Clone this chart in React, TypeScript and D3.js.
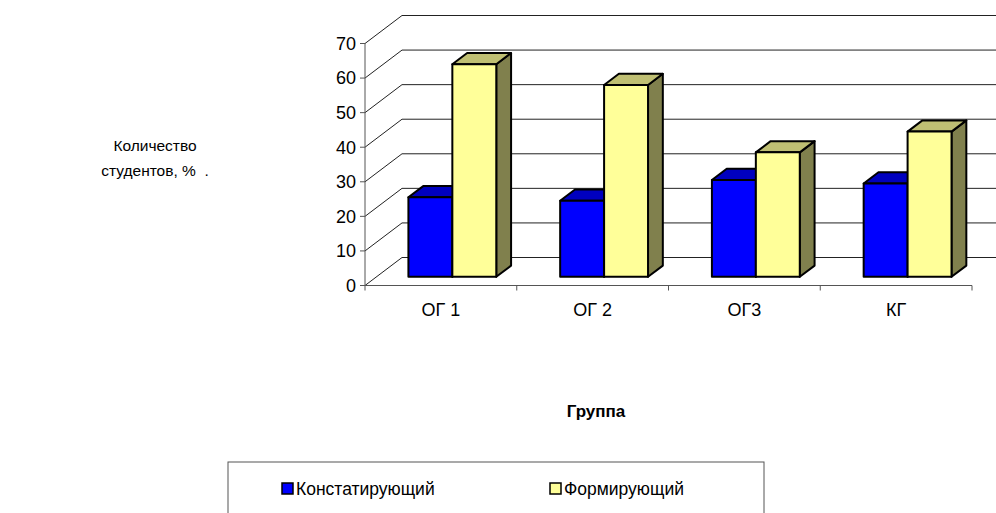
import * as d3 from "d3";

const categories = ["ОГ 1", "ОГ 2", "ОГ3", "КГ"];
const seriesNames = ["Констатирующий", "Формирующий"];
const constat = [23, 22, 28, 27];
const form = [61.5, 55.5, 36, 42];
const yTicks = [0, 10, 20, 30, 40, 50, 60, 70];

const W = 996;
const H = 513;
// full depth of the floor, and where the bars sit inside it
const depthX = 37;
const depthY = -28;
const barD0 = 0.31;
const barD1 = 0.71;

const shades = [
  { front: "#0000FF", top: "#0000BF", side: "#000080" },
  { front: "#FFFF99", top: "#BFBF73", side: "#80804D" },
];

const font = "'Liberation Sans', Arial, sans-serif";

export default function App() {
  const x0 = d3
    .scaleBand<string>()
    .domain(categories)
    .range([365, 972])
    .paddingInner(0)
    .paddingOuter(0);
  const x1 = d3
    .scaleBand<string>()
    .domain(seriesNames)
    .range([0, x0.bandwidth()])
    .paddingInner(0)
    .paddingOuter(0.727);
  const y = d3.scaleLinear().domain([0, 70]).range([285.5, 43.5]);

  const series = [constat, form];
  const bw = x1.bandwidth();
  const dx = (barD1 - barD0) * depthX;
  const dy = (barD1 - barD0) * depthY;
  const pts = (p: number[][]) => p.map((q) => q.join(",")).join(" ");

  const axisX0 = x0.range()[0];
  const axisX1 = x0.range()[1];
  const boundaries = [axisX0, ...categories.map((c) => (x0(c) as number) + x0.bandwidth())];

  return (
    <svg
      width={W}
      height={H}
      style={{ position: "absolute", left: 0, top: 0, background: "#fff" }}
      fontFamily={font}
    >
      {/* walls: grid lines on the left wall and back wall */}
      <g stroke="#222" strokeWidth={1} fill="none">
        {yTicks.map((t) => (
          <g key={t}>
            <line x1={axisX0} y1={y(t)} x2={axisX0 + depthX} y2={y(t) + depthY} />
            <line x1={axisX0 + depthX} y1={y(t) + depthY} x2={axisX1 + depthX} y2={y(t) + depthY} />
          </g>
        ))}
      </g>

      {/* front axes */}
      <g stroke="#555" strokeWidth={1}>
        <line x1={axisX0} y1={y(0)} x2={axisX1} y2={y(0)} />
        <line x1={axisX0} y1={y(0)} x2={axisX0} y2={y(70)} />
        {boundaries.map((b, i) => (
          <line key={i} x1={b} y1={y(0)} x2={b} y2={y(0) + 5} />
        ))}
        {yTicks.map((t) => (
          <line key={t} x1={axisX0 - 5} y1={y(t)} x2={axisX0} y2={y(t)} />
        ))}
      </g>

      {/* tick labels */}
      <g fontSize={18} fill="#000">
        {yTicks.map((t) => (
          <text key={t} x={axisX0 - 9} y={y(t)} dy="0.35em" textAnchor="end">
            {t}
          </text>
        ))}
        {categories.map((c) => (
          <text key={c} x={(x0(c) as number) + x0.bandwidth() / 2} y={316} textAnchor="middle">
            {c}
          </text>
        ))}
      </g>

      {/* bars */}
      <g stroke="#000" strokeWidth={2} strokeLinejoin="round">
        {categories.map((c, i) =>
          seriesNames.map((s, k) => {
            const v = series[k][i];
            const xl = (x0(c) as number) + (x1(s) as number) + barD0 * depthX;
            const yb = y(0) + barD0 * depthY;
            const yt = y(v) + barD0 * depthY;
            const xr = xl + bw;
            const col = shades[k];
            return (
              <g key={c + s}>
                <polygon
                  fill={col.side}
                  points={pts([[xr, yt], [xr + dx, yt + dy], [xr + dx, yb + dy], [xr, yb]])}
                />
                <polygon
                  fill={col.top}
                  points={pts([[xl, yt], [xr, yt], [xr + dx, yt + dy], [xl + dx, yt + dy]])}
                />
                <rect x={xl} y={yt} width={bw} height={yb - yt} fill={col.front} />
              </g>
            );
          })
        )}
      </g>

      {/* axis titles */}
      <text x={155} y={151} fontSize={15.5} textAnchor="middle">
        Количество
      </text>
      <text x={155} y={176} fontSize={15.5} textAnchor="middle" style={{ whiteSpace: "pre" }}>
        {"студентов, %  ."}
      </text>
      <text x={596} y={417} fontSize={17} fontWeight="bold" textAnchor="middle">
        Группа
      </text>

      {/* legend */}
      <rect x={228} y={462} width={536} height={70} fill="#fff" stroke="#555" strokeWidth={1} />
      {seriesNames.map((s, k) => {
        const lx = k === 0 ? 282 : 550;
        return (
          <g key={s}>
            <rect x={lx} y={483} width={11} height={11} fill={shades[k].front} stroke="#000" strokeWidth={1.5} />
            <text x={lx + 14} y={495} fontSize={17.5}>
              {s}
            </text>
          </g>
        );
      })}
    </svg>
  );
}
